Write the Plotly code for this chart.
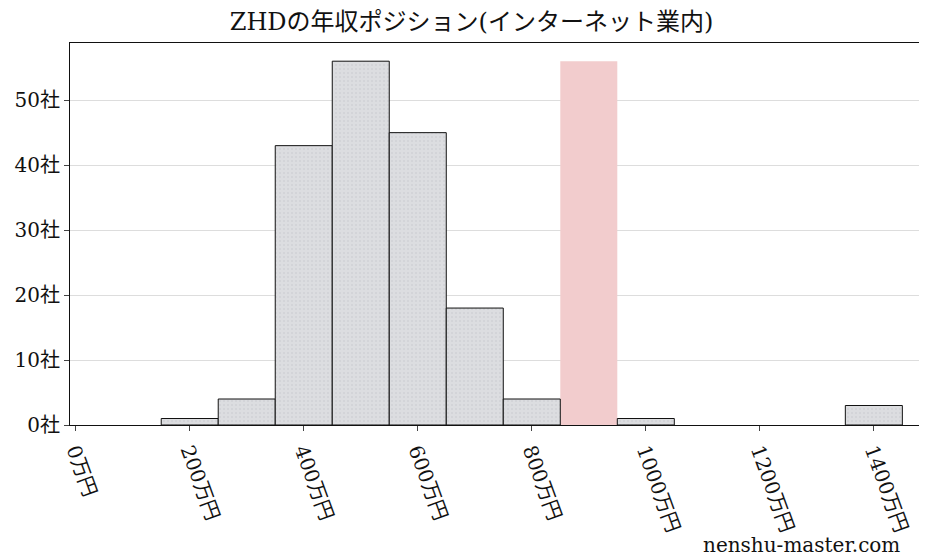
import plotly.graph_objects as go

BIN_CENTERS = [200, 300, 400, 500, 600, 700, 800, 1000, 1400]
COUNTS = [1, 4, 43, 56, 45, 18, 4, 1, 3]
HIGHLIGHT_CENTER = [900]
HIGHLIGHT_COUNT = [56]
X_TICKS = [0, 200, 400, 600, 800, 1000, 1200, 1400]
X_LABELS = ["%d万円" % v for v in X_TICKS]
Y_TICKS = [0, 10, 20, 30, 40, 50]
Y_LABELS = ["%d社" % v for v in Y_TICKS]

FONT = "DejaVu Serif, Noto Sans CJK JP"

fig = go.Figure()
fig.add_trace(go.Bar(
    x=HIGHLIGHT_CENTER, y=HIGHLIGHT_COUNT, width=100,
    marker={"color": "#f2cccd", "line": {"width": 0}},
))
fig.add_trace(go.Bar(
    x=BIN_CENTERS, y=COUNTS, width=100,
    marker={"color": "#dcdde0", "line": {"color": "#111111", "width": 1},
            "pattern": {"shape": ".", "fgcolor": "#c4c6ca", "size": 4, "solidity": 0.2}},
))
fig.update_layout(
    width=927, height=557,
    margin={"l": 62, "r": 7, "t": 35, "b": 140},
    paper_bgcolor="white", plot_bgcolor="white",
    showlegend=False, barmode="overlay",
    font={"family": FONT, "size": 20, "color": "#111111"},
    title={"text": "ZHDの年収ポジション(インターネット業内)", "x": 0.5, "xanchor": "center",
           "y": 0.99, "yanchor": "top", "font": {"size": 24}},
    annotations=[{"text": "nenshu-master.com", "xref": "paper", "yref": "paper",
                  "x": 0.97, "y": -0.314, "xanchor": "right", "yanchor": "middle",
                  "showarrow": False, "font": {"size": 20}}],
)
fig.update_xaxes(range=[-10, 1495], tickvals=X_TICKS, ticktext=X_LABELS, tickangle=70,
                 showgrid=False, showline=True, linecolor="#111111", mirror=True,
                 ticks="outside", ticklen=5, zeroline=False, automargin=False)
fig.update_yaxes(range=[0, 58.8], tickvals=Y_TICKS, ticktext=Y_LABELS,
                 showgrid=True, gridcolor="#dddddd", showline=True, linecolor="#111111",
                 mirror=True, ticks="outside", ticklen=5, zeroline=False, automargin=False)
fig.write_html("out.html")
